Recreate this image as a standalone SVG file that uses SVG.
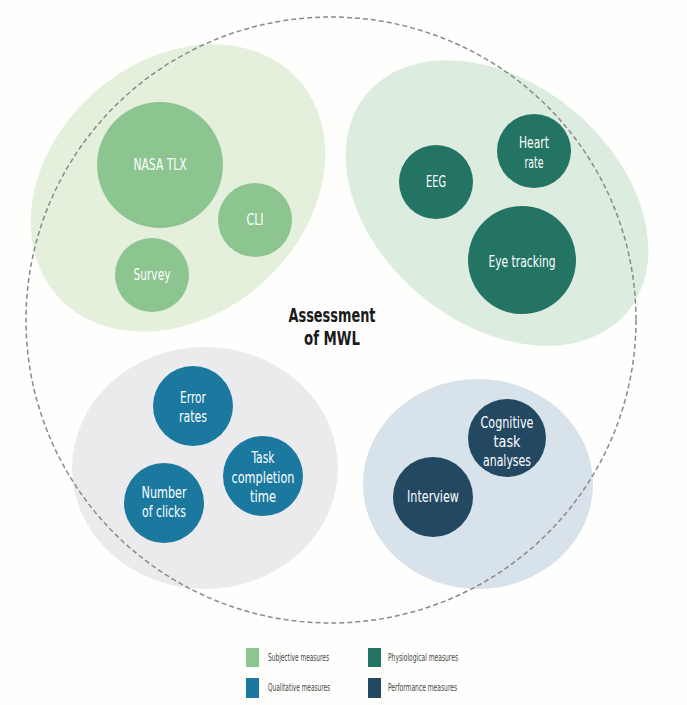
<svg xmlns="http://www.w3.org/2000/svg" width="687" height="705" viewBox="0 0 687 705">
<style>
text{font-family:"DejaVu Sans Condensed","Liberation Sans",sans-serif;text-anchor:middle}
.n{fill:#ffffff;font-size:15.5px}
.t{fill:#1a1a1a;font-size:20px;font-weight:bold}
.l{fill:#444;font-size:10px;text-anchor:start}
.sub{fill:#8cc590}.phy{fill:#237463}.qual{fill:#1b79a0}.perf{fill:#234862}
</style>
<rect width="687" height="705" fill="#fefefd"/>
<g id="groups">
<ellipse id="blob-subjective" cx="178" cy="188" rx="162" ry="127" transform="rotate(-42 178 188)" fill="#e5f0dc"/>
<ellipse id="blob-physiological" cx="497" cy="203" rx="170" ry="120" transform="rotate(40 497 203)" fill="#dcecdf"/>
<ellipse id="blob-qualitative" cx="205" cy="468" rx="133" ry="121" fill="#ebebee"/>
<ellipse id="blob-performance" cx="478" cy="484" rx="115" ry="105" fill="#d8e2ea"/>
</g>
<g id="connectors">
<ellipse cx="331" cy="320" rx="305" ry="303" fill="none" stroke="#8a8a8a" stroke-width="1.5" stroke-dasharray="5 3"/>
</g>
<g id="center"><text class="t" x="332" y="322" textLength="87" lengthAdjust="spacingAndGlyphs">Assessment</text><text class="t" x="332" y="345" textLength="56" lengthAdjust="spacingAndGlyphs">of MWL</text></g>
<g id="nasa"><circle class="sub" cx="160" cy="165" r="63"/><text class="n" x="160" y="170" textLength="53" lengthAdjust="spacingAndGlyphs">NASA TLX</text></g>
<g id="cli"><circle class="sub" cx="255" cy="220" r="37"/><text class="n" x="255" y="225" textLength="17" lengthAdjust="spacingAndGlyphs">CLI</text></g>
<g id="survey"><circle class="sub" cx="152" cy="275" r="37"/><text class="n" x="152" y="280" textLength="37" lengthAdjust="spacingAndGlyphs">Survey</text></g>
<g id="eeg"><circle class="phy" cx="436" cy="182" r="37"/><text class="n" x="436" y="187" textLength="20" lengthAdjust="spacingAndGlyphs">EEG</text></g>
<g id="heart"><circle class="phy" cx="534" cy="151" r="37"/><text class="n" x="534" y="148" textLength="30" lengthAdjust="spacingAndGlyphs">Heart</text><text class="n" x="534" y="168" textLength="19" lengthAdjust="spacingAndGlyphs">rate</text></g>
<g id="eye"><circle class="phy" cx="522" cy="260" r="54"/><text class="n" x="522" y="267" textLength="67" lengthAdjust="spacingAndGlyphs">Eye tracking</text></g>
<g id="error"><circle class="qual" cx="193" cy="406" r="40"/><text class="n" x="193" y="403" textLength="26" lengthAdjust="spacingAndGlyphs">Error</text><text class="n" x="193" y="422" textLength="28" lengthAdjust="spacingAndGlyphs">rates</text></g>
<g id="task"><circle class="qual" cx="263" cy="476" r="40"/><text class="n" x="263" y="463" textLength="23" lengthAdjust="spacingAndGlyphs">Task</text><text class="n" x="263" y="483" textLength="63" lengthAdjust="spacingAndGlyphs">completion</text><text class="n" x="263" y="502" textLength="26" lengthAdjust="spacingAndGlyphs">time</text></g>
<g id="clicks"><circle class="qual" cx="164" cy="503" r="40"/><text class="n" x="164" y="498" textLength="45" lengthAdjust="spacingAndGlyphs">Number</text><text class="n" x="164" y="517" textLength="44" lengthAdjust="spacingAndGlyphs">of clicks</text></g>
<g id="cta"><circle class="perf" cx="507" cy="438" r="39"/><text class="n" x="507" y="428" textLength="53" lengthAdjust="spacingAndGlyphs">Cognitive</text><text class="n" x="507" y="447" textLength="27" lengthAdjust="spacingAndGlyphs">task</text><text class="n" x="507" y="466" textLength="48" lengthAdjust="spacingAndGlyphs">analyses</text></g>
<g id="interview"><circle class="perf" cx="433" cy="497" r="40"/><text class="n" x="433" y="502" textLength="52" lengthAdjust="spacingAndGlyphs">Interview</text></g>
<g id="legend">
<rect class="sub" x="246" y="648" width="13" height="19"/><text class="l" x="268" y="661" textLength="61" lengthAdjust="spacingAndGlyphs">Subjective measures</text>
<rect class="phy" x="368" y="648" width="13" height="19"/><text class="l" x="388" y="661" textLength="70" lengthAdjust="spacingAndGlyphs">Physiological measures</text>
<rect class="qual" x="246" y="678" width="13" height="20"/><text class="l" x="268" y="691" textLength="62" lengthAdjust="spacingAndGlyphs">Qualitative measures</text>
<rect class="perf" x="368" y="678" width="13" height="20"/><text class="l" x="388" y="691" textLength="69" lengthAdjust="spacingAndGlyphs">Performance measures</text>
</g>
</svg>
